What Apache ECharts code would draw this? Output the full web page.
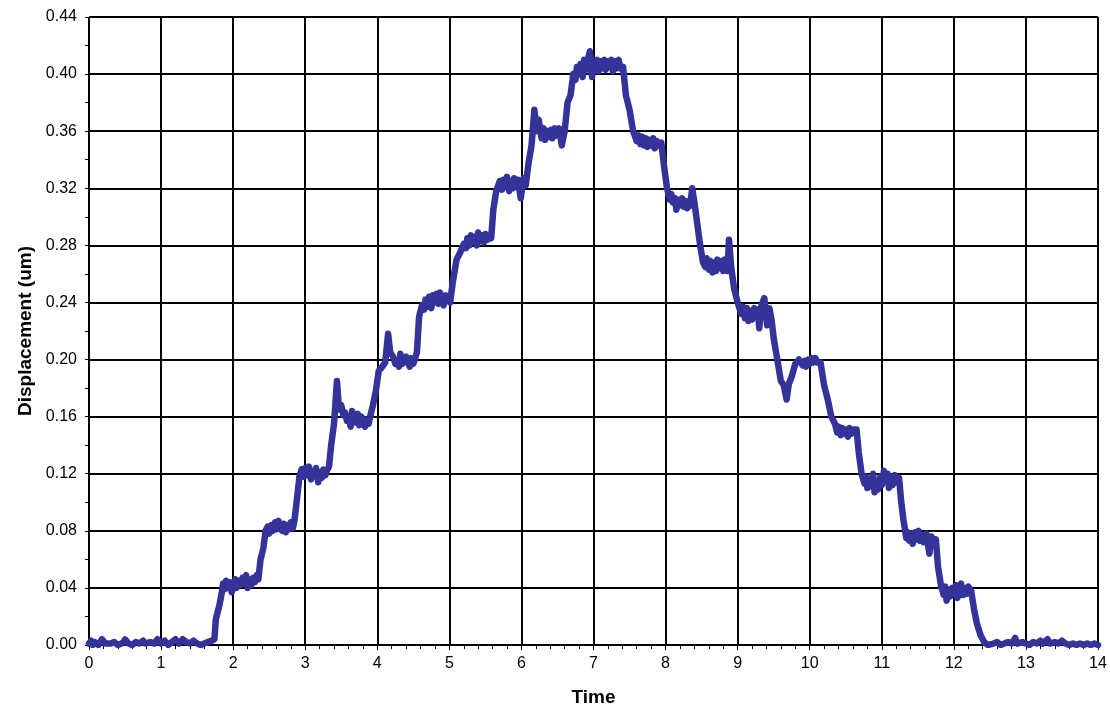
<!DOCTYPE html>
<html>
<head>
<meta charset="utf-8">
<script src="https://cdn.jsdelivr.net/npm/echarts@6/dist/echarts.min.js"></script>
<style>html,body{margin:0;padding:0;background:#fff}#c{width:1110px;height:715px}</style>
</head>
<body>
<div id="c"></div>
<script>
// Time and displacement (um) samples
const times = [
0.00,0.03,0.05,0.08,0.10,0.13,0.15,0.18,0.20,0.23,0.25,0.30,0.35,0.40,0.45,0.48,0.50,0.55,0.60,0.65,0.70,0.75,0.78,0.80,0.85,0.90,0.95,
1.00,1.05,1.10,1.15,1.20,1.25,1.30,1.35,1.40,1.45,1.50,1.55,1.60,1.65,1.70,1.74,
1.76,1.78,1.81,1.84,1.86,
1.88,1.90,1.93,1.95,1.98,2.00,2.03,2.05,2.08,2.10,2.13,2.15,2.18,2.20,2.23,2.25,2.28,2.30,2.33,2.35,
2.38,2.42,2.45,2.48,
2.50,2.53,2.55,2.58,2.60,2.63,2.65,2.68,2.70,2.73,2.75,2.78,2.80,2.83,2.85,
2.88,2.92,2.95,
2.98,3.00,3.03,3.05,3.08,3.10,3.13,3.15,3.18,3.20,3.23,3.25,3.28,3.30,3.33,
3.36,3.40,3.44,3.47,3.50,3.53,3.55,3.58,3.60,3.63,3.65,3.68,3.70,3.73,3.75,3.78,3.80,3.83,3.85,3.88,3.90,3.94,3.98,4.02,4.07,4.11,4.15,4.18,4.22,4.25,4.27,4.30,4.32,4.35,4.37,4.40,4.42,4.45,4.47,4.50,4.52,4.55,
4.58,4.62,4.65,4.67,4.70,4.72,4.75,4.77,4.80,4.82,4.85,4.87,4.90,4.92,4.95,4.97,5.01,
5.05,5.10,5.15,5.20,5.23,5.25,5.28,5.30,5.33,5.35,5.38,5.40,5.43,5.45,5.48,5.50,5.53,5.55,5.58,
5.61,5.65,5.70,5.73,5.75,5.78,5.80,5.83,5.85,5.88,5.90,5.93,5.95,5.99,6.03,6.06,
6.10,6.14,6.18,6.21,6.24,6.28,6.31,6.33,6.36,6.38,6.41,6.43,6.46,6.48,6.52,6.56,6.60,
6.64,6.68,6.72,6.75,6.77,6.80,6.82,6.85,6.87,6.90,6.92,6.95,6.98,7.00,7.02,7.05,7.07,7.10,7.12,7.15,7.17,7.20,7.22,7.25,7.27,7.30,7.32,7.35,7.37,7.41,
7.45,7.50,7.55,7.60,7.63,7.65,7.68,7.70,7.73,7.75,7.78,7.80,7.83,7.85,7.88,7.90,7.94,
7.98,8.02,8.06,8.08,8.10,8.13,8.15,8.18,8.20,8.23,8.25,8.28,8.30,8.34,8.37,8.40,8.44,8.48,8.52,
8.55,8.57,8.60,8.62,8.65,8.67,8.70,8.72,8.75,8.77,8.80,8.82,8.86,8.88,8.91,8.95,9.00,9.05,
9.08,9.10,9.13,9.15,9.18,9.20,9.23,9.25,9.28,9.30,9.33,9.37,9.41,9.44,9.47,9.50,9.55,9.60,9.64,
9.68,9.71,9.75,9.80,9.85,9.90,9.93,9.95,9.98,10.00,10.03,10.05,10.08,10.10,10.15,
10.20,10.25,10.30,10.35,10.38,10.40,10.43,10.45,10.48,10.50,10.53,10.55,10.58,10.60,10.65,
10.68,10.72,10.76,10.78,10.80,10.83,10.85,10.88,10.90,10.93,10.95,10.98,11.00,11.03,11.05,11.08,11.10,11.13,11.15,11.18,11.20,11.24,
11.27,11.30,11.34,11.36,11.38,11.41,11.43,11.46,11.48,11.51,11.53,11.56,11.58,11.62,11.66,11.69,11.72,11.75,
11.78,11.82,11.86,11.88,11.90,11.93,11.95,11.98,12.00,12.03,12.05,12.08,12.10,12.13,12.15,12.18,12.20,12.24,
12.28,12.32,12.37,12.42,12.47,
12.55,12.60,12.65,12.70,12.75,12.80,12.83,12.85,12.88,12.90,12.95,13.00,13.05,13.10,13.15,13.20,13.23,13.25,13.30,13.33,13.35,13.40,13.45,13.50,13.55,13.60,13.65,13.70,13.75,13.80,13.85,13.90,13.95,14.00
];
const displacement = [
0.001,0.003,0.000,0.002,0.002,0.000,0.001,0.004,0.003,0.001,0.000,0.001,0.002,0.000,0.001,0.002,0.004,0.001,0.000,0.002,0.001,0.003,0.001,0.000,0.002,0.001,0.004,
0.001,0.003,0.000,0.002,0.004,0.001,0.004,0.002,0.001,0.003,0.001,0.000,0.001,0.002,0.003,0.004,
0.018,0.022,0.028,0.036,0.043,
0.039,0.045,0.040,0.044,0.037,0.042,0.046,0.040,0.045,0.042,0.047,0.043,0.049,0.040,0.046,0.042,0.047,0.044,0.049,0.046,
0.060,0.068,0.080,0.083,
0.078,0.084,0.080,0.086,0.081,0.087,0.082,0.080,0.085,0.079,0.084,0.081,0.086,0.082,0.087,
0.100,0.118,0.123,
0.118,0.124,0.119,0.125,0.116,0.122,0.120,0.124,0.114,0.121,0.117,0.123,0.119,0.122,0.125,
0.140,0.155,0.185,0.165,0.168,0.161,0.163,0.157,0.160,0.153,0.164,0.159,0.156,0.162,0.154,0.160,0.157,0.153,0.158,0.155,0.160,0.168,0.178,0.192,0.195,0.198,0.218,0.205,0.202,0.197,0.199,0.195,0.204,0.197,0.196,0.202,0.199,0.195,0.201,0.197,0.200,0.205,
0.230,0.238,0.235,0.242,0.237,0.244,0.236,0.245,0.240,0.246,0.239,0.247,0.241,0.238,0.245,0.243,0.240,
0.255,0.270,0.275,0.281,0.278,0.285,0.280,0.287,0.282,0.286,0.280,0.289,0.283,0.287,0.282,0.288,0.284,0.287,0.285,
0.305,0.318,0.325,0.319,0.326,0.321,0.328,0.318,0.325,0.320,0.327,0.322,0.326,0.313,0.327,0.322,
0.338,0.350,0.375,0.360,0.368,0.355,0.362,0.354,0.360,0.356,0.361,0.355,0.362,0.357,0.362,0.350,0.360,
0.380,0.385,0.400,0.396,0.405,0.400,0.407,0.398,0.410,0.403,0.410,0.416,0.398,0.408,0.404,0.410,0.402,0.409,0.404,0.410,0.403,0.409,0.405,0.410,0.402,0.409,0.404,0.410,0.404,0.405,
0.385,0.375,0.360,0.353,0.357,0.351,0.356,0.350,0.355,0.349,0.354,0.350,0.355,0.348,0.353,0.350,0.352,
0.335,0.320,0.312,0.316,0.310,0.313,0.305,0.312,0.308,0.313,0.307,0.311,0.306,0.308,0.320,0.310,0.295,0.280,0.268,
0.265,0.271,0.263,0.269,0.261,0.268,0.262,0.270,0.264,0.269,0.262,0.270,0.262,0.284,0.265,0.250,0.240,0.232,
0.237,0.229,0.236,0.227,0.234,0.228,0.236,0.231,0.235,0.222,0.238,0.243,0.224,0.236,0.228,0.215,0.200,0.185,0.182,
0.172,0.183,0.188,0.197,0.200,0.196,0.199,0.195,0.200,0.197,0.201,0.198,0.201,0.198,0.198,
0.182,0.172,0.160,0.155,0.149,0.153,0.147,0.152,0.148,0.151,0.146,0.152,0.148,0.151,0.151,
0.135,0.120,0.113,0.118,0.110,0.116,0.111,0.120,0.107,0.115,0.109,0.118,0.112,0.122,0.115,0.120,0.110,0.118,0.112,0.119,0.114,0.117,
0.100,0.088,0.075,0.079,0.073,0.078,0.071,0.079,0.074,0.080,0.073,0.077,0.072,0.078,0.064,0.076,0.072,0.074,
0.055,0.042,0.035,0.041,0.031,0.039,0.034,0.040,0.036,0.042,0.033,0.038,0.043,0.035,0.040,0.036,0.041,0.038,
0.025,0.015,0.007,0.002,0.000,
0.001,0.002,0.000,0.001,0.002,0.001,0.003,0.005,0.001,0.001,0.002,0.001,0.000,0.002,0.001,0.003,0.001,0.002,0.004,0.001,0.001,0.002,0.001,0.003,0.001,0.000,0.001,0.000,0.001,0.000,0.001,0.000,0.001,0.000
];
const xTickLabels = ['0','1','2','3','4','5','6','7','8','9','10','11','12','13','14'];
const yTickLabels = ['0.00','0.04','0.08','0.12','0.16','0.20','0.24','0.28','0.32','0.36','0.40','0.44'];

const data = times.map((t, i) => [t, displacement[i]]);
const font = 'Arial, "Liberation Sans", Helvetica, sans-serif';
const chart = echarts.init(document.getElementById('c'), null, {renderer: 'canvas'});
chart.setOption({
  animation: false,
  backgroundColor: '#fff',
  grid: {left: 89, right: 12, top: 17, bottom: 70, containLabel: false},
  xAxis: {
    type: 'value', min: 0, max: 14, interval: 1,
    name: 'Time', nameLocation: 'middle', nameGap: 43,
    nameTextStyle: {fontFamily: font, fontSize: 19, fontWeight: 'bold', color: '#000'},
    axisLine: {show: true, lineStyle: {color: '#000', width: 1}},
    axisTick: {show: true, length: 5, lineStyle: {color: '#000', width: 1}},
    minorTick: {show: true, splitNumber: 5, length: 4, lineStyle: {color: '#000', width: 1}},
    axisLabel: {fontFamily: font, fontSize: 16, color: '#000', margin: 11,
      formatter: v => xTickLabels[Math.round(v)]},
    splitLine: {show: true, lineStyle: {color: '#000', width: 2}}
  },
  yAxis: {
    type: 'value', min: 0, max: 0.44, interval: 0.04,
    name: 'Displacement (um)', nameLocation: 'middle', nameGap: 53,
    nameTextStyle: {fontFamily: font, fontSize: 19, fontWeight: 'bold', color: '#000'},
    axisLine: {show: true, lineStyle: {color: '#000', width: 1}},
    axisTick: {show: true, length: 4, lineStyle: {color: '#000', width: 1}},
    minorTick: {show: true, splitNumber: 2, length: 4, lineStyle: {color: '#000', width: 1}},
    axisLabel: {fontFamily: font, fontSize: 16, color: '#000', margin: 12,
      formatter: v => yTickLabels[Math.round(v / 0.04)]},
    splitLine: {show: true, lineStyle: {color: '#000', width: 2}}
  },
  series: [{
    type: 'line', data: data, showSymbol: false, symbol: 'none',
    lineStyle: {color: '#333399', width: 6.5, join: 'round', cap: 'round'},
    itemStyle: {color: '#333399'}
  }]
});
</script>
</body>
</html>
